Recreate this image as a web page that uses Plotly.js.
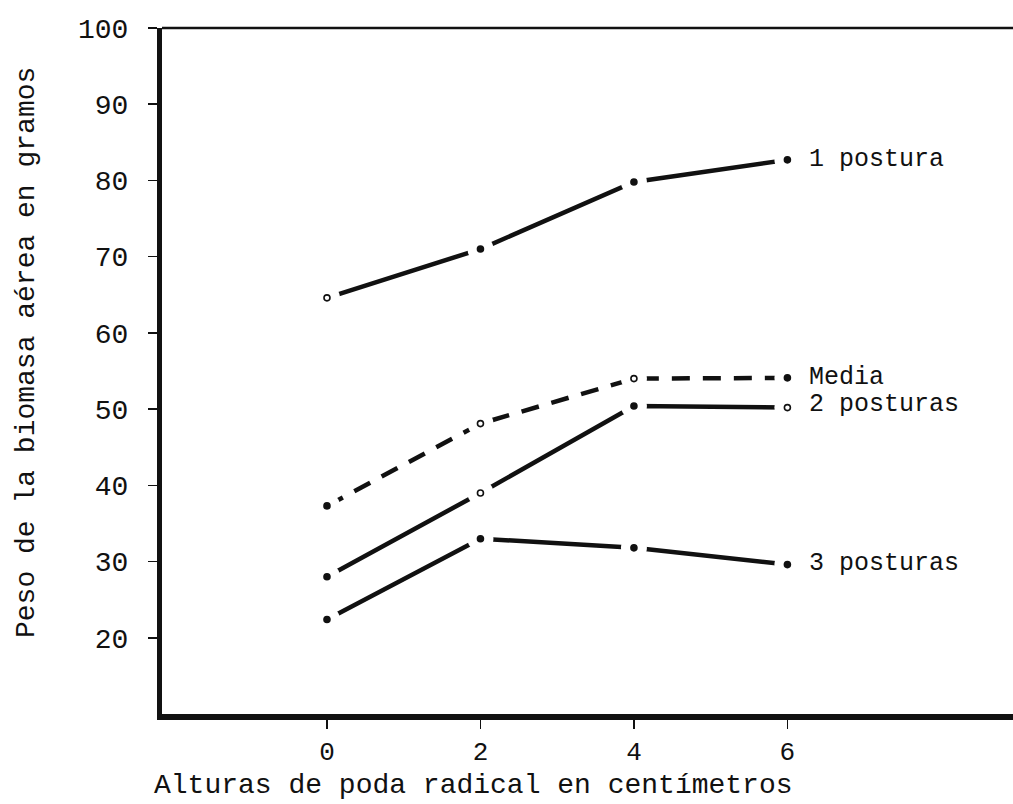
<!DOCTYPE html>
<html>
<head>
<meta charset="utf-8">
<script src="https://cdn.plot.ly/plotly-3.0.1.min.js"></script>
<style>html,body{margin:0;padding:0;background:#fff;}</style>
</head>
<body>
<div id="chart" style="width:1013px;height:804px;"></div>
<script>
// Data
const alturas = [0, 2, 4, 6];
const unaPostura = [64.6, 71.0, 79.8, 82.7];
const media = [37.3, 48.1, 54.0, 54.1];
const dosPosturas = [28.0, 39.0, 50.4, 50.2];
const tresPosturas = [22.4, 33.0, 31.8, 29.6];
const seriesNames = ["1 postura", "Media", "2 posturas", "3 posturas"];
const xTickLabels = ["0", "2", "4", "6"];
const yTickVals = [20, 30, 40, 50, 60, 70, 80, 90, 100];

const FONT = "Liberation Mono, Courier New, monospace";
const INK = "#111";
const HALO = "#ffffff";

const seriesList = [
  {name: seriesNames[0], y: unaPostura, dash: "solid", sym: ["circle-open","circle","circle","circle"], yshift: 0},
  {name: seriesNames[1], y: media, dash: "18px,13px", sym: ["circle","circle-open","circle-open","circle"], yshift: 0},
  {name: seriesNames[2], y: dosPosturas, dash: "solid", sym: ["circle","circle-open","circle","circle-open"], yshift: 3},
  {name: seriesNames[3], y: tresPosturas, dash: "solid", sym: ["circle","circle","circle","circle"], yshift: 1}
];

const traces = [];
seriesList.forEach(s => {
  traces.push({x: alturas, y: s.y, mode: "lines", line: {color: INK, width: 4.5, dash: s.dash}, hoverinfo: "skip", showlegend: false});
});
// blank halo around each point so the lines stop short of the dots
seriesList.forEach(s => {
  traces.push({type: "scatter", x: alturas, y: s.y, mode: "markers",
    marker: {color: HALO, size: 26, symbol: "circle", opacity: 1}, hoverinfo: "skip", showlegend: false});
});
seriesList.forEach(s => {
  traces.push({x: alturas, y: s.y, mode: "markers", name: s.name,
    marker: {color: INK, size: 6, symbol: s.sym, line: {color: INK, width: 1.6}}, showlegend: false});
});

const annotations = seriesList.map(s => ({
  x: alturas[alturas.length - 1], y: s.y[s.y.length - 1], xref: "x", yref: "y",
  text: s.name, showarrow: false, xanchor: "left", yanchor: "middle", xshift: 20, yshift: s.yshift,
  font: {family: FONT, size: 25, color: INK}
}));
annotations.push({
  x: (473 - 162) / 851, y: (714 - 785) / 686, xref: "paper", yref: "paper", showarrow: false,
  text: "Alturas de poda radical en centímetros", xanchor: "center", yanchor: "middle",
  font: {family: FONT, size: 28, color: INK}
});
annotations.push({
  x: (26 - 162) / 851, y: (714 - 353) / 686, xref: "paper", yref: "paper", showarrow: false, textangle: -90,
  text: "Peso de la biomasa aérea en gramos", xanchor: "center", yanchor: "middle",
  font: {family: FONT, size: 28, color: INK}
});

const layout = {
  width: 1013, height: 804,
  margin: {l: 162, r: 0, t: 28, b: 90},
  paper_bgcolor: "#fff", plot_bgcolor: "#fff",
  xaxis: {
    range: [-2.15, 8.94], showgrid: false, zeroline: false,
    showline: true, linecolor: INK, linewidth: 5.5,
    tickmode: "array", tickvals: alturas, ticktext: xTickLabels,
    ticks: "outside", ticklen: 9, tickwidth: 1.5, tickcolor: INK,
    tickfont: {family: FONT, size: 26, color: INK}
  },
  yaxis: {
    range: [10, 100], showgrid: false, zeroline: false,
    showline: true, linecolor: INK, linewidth: 5,
    tickmode: "array", tickvals: yTickVals,
    ticks: "outside", ticklen: 9, tickwidth: 1.5, tickcolor: INK,
    ticklabelstandoff: 14,
    tickfont: {family: FONT, size: 28, color: INK}
  },
  shapes: [{type: "line", xref: "paper", yref: "paper", x0: 0, x1: 1, y0: 1, y1: 1, line: {color: INK, width: 2.5}}],
  annotations: annotations,
  showlegend: false
};

Plotly.newPlot("chart", traces, layout, {staticPlot: true, displayModeBar: false});
</script>
</body>
</html>
